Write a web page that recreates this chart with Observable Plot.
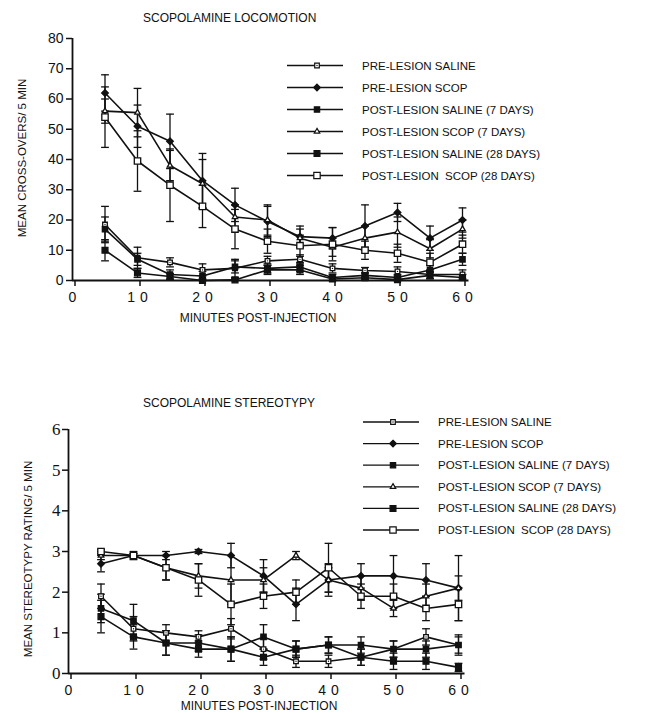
<!DOCTYPE html>
<html><head><meta charset="utf-8">
<script src="https://cdn.jsdelivr.net/npm/d3@7"></script>
<script src="https://cdn.jsdelivr.net/npm/@observablehq/plot@0.6"></script>
<style>
body{margin:0;background:#fff;}
#root{position:relative;width:648px;height:713px;overflow:hidden;font-family:"Liberation Sans",Arial,sans-serif;}
#root > svg{position:absolute;left:0;}
g[aria-label="x-axis tick label"] text{letter-spacing:5px;}
</style></head><body><div id="root"></div>
<script>
// ---- data ----
const minutes = [5, 10, 15, 20, 25, 30, 35, 40, 45, 50, 55, 60];
const seriesNames = ["PRE-LESION SALINE", "PRE-LESION SCOP", "POST-LESION SALINE (7 DAYS)", "POST-LESION SCOP (7 DAYS)", "POST-LESION SALINE (28 DAYS)", "POST-LESION  SCOP (28 DAYS)"];
const xTicks = [0, 10, 20, 30, 40, 50, 60];

// Locomotion (mean cross-overs / 5 min)
const locoPreSaline      = [18.5, 7.5, 6, 3.5, 4, 6.5, 7, 4, 3.3, 3, 2, 2];
const locoPreSalineErr   = [6, 3.5, 1.5, 2, 3, 1.5, 1.5, 1.5, 1, 1.5, 1.5, 1.5];
const locoPreScop        = [62, 51, 46, 33, 25, 19.5, 14.5, 14, 18, 22.5, 14, 20];
const locoPreScopErr     = [6, 7, 9, 9, 5.5, 5, 3.5, 3.5, 7, 3, 4, 4];
const locoPost7Saline    = [17, 7, 2, 1.5, 4.5, 4, 4.5, 1, 1.7, 1, 3.5, 7];
const locoPost7SalineErr = [4, 2, 1.5, 1.5, 2, 1.5, 1.5, 1, 1, 1, 1.5, 2];
const locoPost7Scop      = [56, 55.5, 38, 32, 21, 20, 14, 11, 14, 16, 10.5, 17];
const locoPost7ScopErr   = [4, 8, 5, 8, 4, 5, 3, 3, 4, 5, 3, 3];
const locoPost28Saline   = [10, 2.5, 1.3, 0, 0.2, 3.5, 3.5, 0.5, 0.9, 0.3, 1.7, 1];
const locoPost28SalineErr= [3.5, 1.5, 1, 0.5, 0.5, 1.5, 1.5, 0.5, 0.5, 0.5, 1, 1];
const locoPost28Scop     = [54, 39.5, 31.5, 24.5, 17, 13, 11.5, 12, 10, 9, 6, 12];
const locoPost28ScopErr  = [10, 10, 12, 7, 6.5, 4, 3.5, 5.5, 3, 3, 3, 3];
const locoYTicks = [0, 10, 20, 30, 40, 50, 60, 70, 80];

// Stereotypy (mean rating / 5 min)
const stereoPreSaline      = [1.9, 1.1, 1.0, 0.9, 1.1, 0.6, 0.3, 0.3, 0.4, 0.6, 0.9, 0.7];
const stereoPreSalineErr   = [0.3, 0.3, 0.2, 0.15, 0.25, 0.25, 0.15, 0.15, 0.2, 0.2, 0.2, 0.2];
const stereoPreScop        = [2.7, 2.9, 2.9, 3.0, 2.9, 2.4, 1.7, 2.3, 2.4, 2.4, 2.3, 2.1];
const stereoPreScopErr     = [0.2, 0.05, 0.1, 0.05, 0.3, 0.4, 0.4, 0.4, 0.3, 0.5, 0.4, 0.8];
const stereoPost7Saline    = [1.6, 1.3, 0.75, 0.75, 0.6, 0.9, 0.6, 0.7, 0.7, 0.6, 0.6, 0.7];
const stereoPost7SalineErr = [0.35, 0.4, 0.3, 0.2, 0.3, 0.3, 0.2, 0.2, 0.2, 0.2, 0.2, 0.25];
const stereoPost7Scop      = [2.9, 2.9, 2.6, 2.4, 2.3, 2.3, 2.9, 2.3, 2.1, 1.6, 1.9, 2.1];
const stereoPost7ScopErr   = [0.1, 0.1, 0.3, 0.3, 0.6, 0.3, 0.1, 0.3, 0.3, 0.2, 0.3, 0.3];
const stereoPost28Saline   = [1.4, 0.9, 0.75, 0.6, 0.6, 0.4, 0.6, 0.7, 0.4, 0.3, 0.3, 0.15];
const stereoPost28SalineErr= [0.4, 0.3, 0.3, 0.2, 0.3, 0.2, 0.2, 0.2, 0.2, 0.2, 0.2, 0.1];
const stereoPost28Scop     = [3.0, 2.9, 2.6, 2.3, 1.7, 1.9, 2.0, 2.6, 1.9, 1.9, 1.6, 1.7];
const stereoPost28ScopErr  = [0.05, 0.05, 0.3, 0.4, 0.5, 0.3, 0.3, 0.6, 0.3, 0.3, 0.3, 0.4];
const stereoYTicks = [0, 1, 2, 3, 4, 5, 6];

// ---- styles ----
const INK = "#111";
const markerStyles = [
  {symbol: "square", r: 2.6, fill: "white", dot: true},
  {symbol: "diamond2", r: 3.0, fill: INK},
  {symbol: "square", r: 3.0, fill: INK},
  {symbol: "triangle2", r: 2.6, fill: "white"},
  {symbol: "square", r: 3.3, fill: INK},
  {symbol: "square", r: 3.6, fill: "white"}
];

function buildRows(values, errs) {
  const rows = [];
  values.forEach((vals, s) => vals.forEach((v, i) => rows.push({series: s, minute: minutes[i], value: v, err: errs[s][i]})));
  return rows;
}

function chart(cfg) {
  const rows = buildRows(cfg.values, cfg.errs);
  const lo = d => Math.max(0, d.value - d.err), hi = d => d.value + d.err;
  const capW = 0.6;
  const marks = [
    Plot.ruleY([0], {x1: 0, x2: 61, stroke: INK, strokeWidth: 1.8}),
    Plot.ruleX([0], {y1: 0, y2: cfg.ymax, stroke: INK, strokeWidth: 1.8}),
    Plot.axisX({ticks: xTicks, tickSize: 6, tickPadding: 6, label: null, fontSize: 14, dx: 2.5, stroke: INK, strokeWidth: 1.5, fill: INK, tickFormat: d => String(d)}),
    Plot.axisY({ticks: cfg.yTicks, tickSize: 6, tickPadding: cfg.tickPad, label: null, fontSize: cfg.yFontSize, stroke: INK, strokeWidth: 1.5, fill: INK, tickFormat: d => String(d)}),
    Plot.ruleX(rows, {x: "minute", y1: lo, y2: hi, stroke: INK, strokeWidth: 1.3}),
    Plot.link(rows, {x1: d => d.minute - capW, x2: d => d.minute + capW, y1: hi, y2: hi, stroke: INK, strokeWidth: 1.3}),
    Plot.link(rows, {x1: d => d.minute - capW, x2: d => d.minute + capW, y1: lo, y2: lo, stroke: INK, strokeWidth: 1.3}),
    Plot.line(rows, {x: "minute", y: "value", z: "series", stroke: INK, strokeWidth: 1.6})
  ];
  markerStyles.forEach((m, s) => {
    const sub = rows.filter(d => d.series === s);
    marks.push(Plot.dot(sub, {x: "minute", y: "value", symbol: m.symbol, r: m.r, fill: m.fill, stroke: INK, strokeWidth: 1.3}));
    if (m.dot) marks.push(Plot.dot(sub, {x: "minute", y: "value", r: 0.7, fill: INK}));
  });
  const svg = Plot.plot({
    width: 648, height: cfg.height,
    marginLeft: cfg.ml, marginRight: cfg.mr, marginTop: cfg.mt, marginBottom: cfg.mb,
    x: {domain: [0, 60]},
    y: {domain: [0, cfg.ymax]},
    style: {fontFamily: '"Liberation Sans", Arial, sans-serif', color: INK, background: "transparent", overflow: "visible"},
    marks
  });
  svg.style.top = cfg.top + "px";
  d3.select(svg).selectAll('[aria-label^="y-axis"] text')
    .attr("font-family", cfg.yFont).style("font-family", cfg.yFont).style("font-size", cfg.yFontSize + "px");
  return svg;
}

const root = document.getElementById("root");
root.appendChild(chart({
  top: 0, height: 340, ml: 72, mr: 186, mt: 38, mb: 60, ymax: 80, yTicks: locoYTicks,
  yFontSize: 14, yFont: '"Liberation Sans", Arial, sans-serif', tickPad: 3,
  values: [locoPreSaline, locoPreScop, locoPost7Saline, locoPost7Scop, locoPost28Saline, locoPost28Scop],
  errs: [locoPreSalineErr, locoPreScopErr, locoPost7SalineErr, locoPost7ScopErr, locoPost28SalineErr, locoPost28ScopErr]
}));
root.appendChild(chart({
  top: 350, height: 363, ml: 68, mr: 190, mt: 79, mb: 40, ymax: 6, yTicks: stereoYTicks,
  yFontSize: 17, yFont: '"Liberation Serif", "Times New Roman", serif', tickPad: 2,
  values: [stereoPreSaline, stereoPreScop, stereoPost7Saline, stereoPost7Scop, stereoPost28Saline, stereoPost28Scop],
  errs: [stereoPreSalineErr, stereoPreScopErr, stereoPost7SalineErr, stereoPost7ScopErr, stereoPost28SalineErr, stereoPost28ScopErr]
}));

// ---- overlay: titles, axis titles, legends ----
const ov = d3.select(root).append("svg").attr("width", 648).attr("height", 713).style("top", "0px").style("pointer-events", "none")
  .attr("font-family", '"Liberation Sans", Arial, sans-serif').attr("fill", INK);

const texts = [
  {t: "SCOPOLAMINE LOCOMOTION", x: 143, y: 18, size: 12},
  {t: "MINUTES POST-INJECTION", x: 258, y: 318, size: 12, anchor: "middle"},
  {t: "MEAN CROSS-OVERS/ 5 MIN", x: 22, y: 158, size: 11.5, anchor: "middle", rot: true},
  {t: "SCOPOLAMINE STEREOTYPY", x: 143, y: 403, size: 12},
  {t: "MINUTES POST-INJECTION", x: 259, y: 706, size: 12, anchor: "middle"},
  {t: "MEAN STEREOTYPY RATING/ 5 MIN", x: 28, y: 559, size: 11.5, anchor: "middle", rot: true}
];
texts.forEach(o => {
  ov.append("text").text(o.t).attr("x", o.x).attr("y", o.y).attr("font-size", o.size)
    .attr("dominant-baseline", "central").attr("text-anchor", o.anchor || "start")
    .attr("transform", o.rot ? `rotate(-90 ${o.x} ${o.y})` : null).style("white-space", "pre");
});

const symMap = {square: d3.symbolSquare, diamond2: d3.symbolDiamond2, triangle2: d3.symbolTriangle2};
function legend(x0, y0, dy, lineW, markX, textX) {
  seriesNames.forEach((name, s) => {
    const y = y0 + s * dy, m = markerStyles[s];
    const g = ov.append("g");
    g.append("line").attr("x1", x0).attr("x2", x0 + lineW).attr("y1", y).attr("y2", y).attr("stroke", INK).attr("stroke-width", 1.3);
    g.append("path").attr("d", d3.symbol(symMap[m.symbol], m.r * m.r * Math.PI)())
      .attr("transform", `translate(${x0 + markX},${y})`).attr("fill", m.fill).attr("stroke", INK).attr("stroke-width", 1.2);
    if (m.dot) g.append("circle").attr("cx", x0 + markX).attr("cy", y).attr("r", 0.7).attr("fill", INK);
    g.append("text").text(name).attr("x", x0 + textX).attr("y", y).attr("font-size", 11.5)
      .attr("dominant-baseline", "central").style("white-space", "pre");
  });
}
legend(287, 65.5, 22, 56, 30, 75);
legend(363, 422, 21.6, 56, 30, 75);
</script>
</body></html>
